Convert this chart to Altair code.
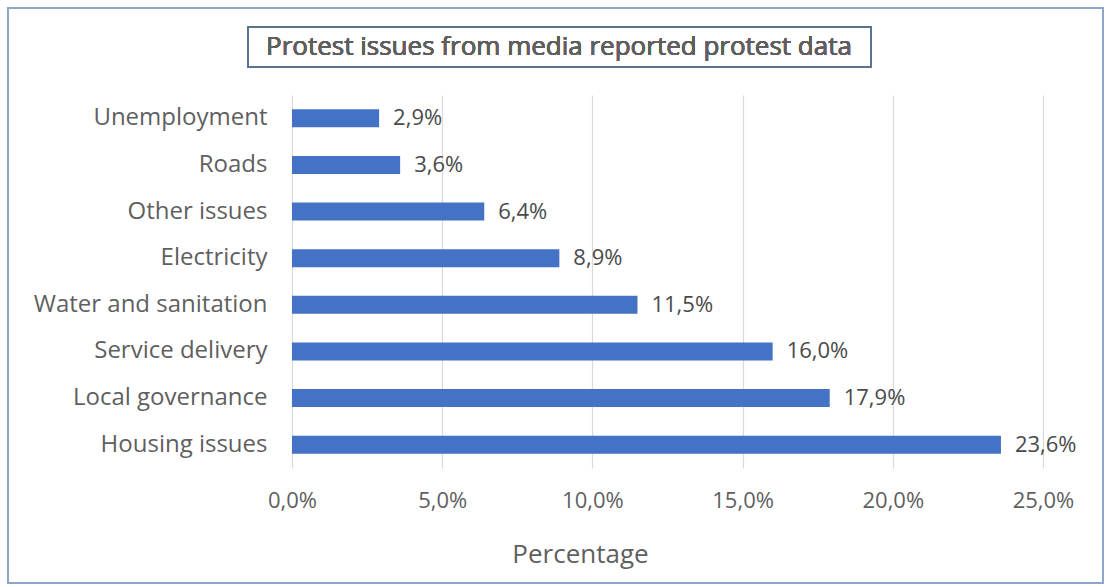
import altair as alt
import pandas as pd

categories = ["Unemployment", "Roads", "Other issues", "Electricity",
              "Water and sanitation", "Service delivery", "Local governance", "Housing issues"]
values = [2.9, 3.6, 6.4, 8.9, 11.5, 16.0, 17.9, 23.6]
x_ticks = [0, 5, 10, 15, 20, 25]

df = pd.DataFrame({"issue": categories, "pct": values})

FONT = "Open Sans"
GRAY = "#5F5F5F"

W, H = 751, 373
PAD_L, PAD_T = 292, 95

base = alt.Chart(df).transform_calculate(
    lab="replace(format(datum.pct, '.1f'), '.', ',') + '%'"
)

bars = base.mark_bar(color="#4472C4", height=18).encode(
    x=alt.X("pct:Q", scale=alt.Scale(domain=[0, 25], nice=False),
            axis=alt.Axis(values=x_ticks, title="Percentage", grid=True,
                          gridColor="#D9D9D9", gridWidth=1.2,
                          domain=False, ticks=False, labelFlush=False,
                          labelExpr="replace(format(datum.value, '.1f'), '.', ',') + '%'",
                          labelFont=FONT, labelFontSize=22, labelColor=GRAY,
                          labelPadding=22,
                          titleFont=FONT, titleFontSize=26, titleColor=GRAY,
                          titleFontWeight="normal", titlePadding=30,
                          titleX=288, titleAnchor="start", titleAlign="center")),
    y=alt.Y("issue:N", sort=categories,
            axis=alt.Axis(title=None, domain=False, ticks=False, grid=False,
                          labelFont=FONT, labelFontSize=24, labelColor=GRAY,
                          labelPadding=25, labelLimit=400)),
)

text = base.mark_text(align="left", dx=14, font=FONT, fontSize=22, color="#4A4A4A",
                      fontWeight="normal").encode(
    x="pct:Q", y=alt.Y("issue:N", sort=categories), text="lab:N"
)

outer = alt.Chart(df).mark_rect(fill=None, stroke="#8FA5CC", strokeWidth=2).encode(
    x=alt.value(8 - PAD_L), x2=alt.value(1103 - PAD_L),
    y=alt.value(8 - PAD_T), y2=alt.value(583 - PAD_T)
)

title_box = alt.Chart(df).mark_rect(fill="white", stroke="#5B7290", strokeWidth=2).encode(
    x=alt.value(248 - PAD_L), x2=alt.value(871 - PAD_L),
    y=alt.value(27 - PAD_T), y2=alt.value(67 - PAD_T)
)

title_text = alt.Chart(df).mark_text(font=FONT, fontSize=26, color=GRAY, align="center",
                                      baseline="middle", fontWeight="normal").encode(
    x=alt.value(559 - PAD_L), y=alt.value(47 - PAD_T),
    text=alt.value("Protest issues from media reported protest data")
)

chart = alt.layer(outer, title_box, title_text, bars, text).properties(
    width=W, height=H,
    autosize=alt.AutoSizeParams(type="none"),
    padding={"left": PAD_L, "top": PAD_T, "right": 1109 - PAD_L - W, "bottom": 587 - PAD_T - H},
    background="white",
).configure_view(stroke=None)

chart.save("out.html", embed_options={"renderer": "svg", "actions": False})
